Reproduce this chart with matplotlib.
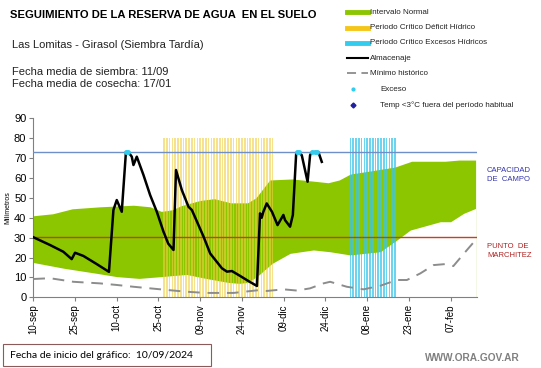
import numpy as np
from matplotlib import pyplot as plt
from matplotlib.lines import Line2D
from matplotlib.patches import Rectangle

plt.rcParams['font.family'] = ['Liberation Sans', 'DejaVu Sans']

# ---------------- datos (dias desde 10/09) ----------------
fechas = ['10-sep', '25-sep', '10-oct', '25-oct', '09-nov', '24-nov',
          '09-dic', '24-dic', '08-ene', '23-ene', '07-feb']
fechas_dias = [0, 15, 30, 45, 60, 75, 90, 105, 120, 135, 150]

# Intervalo normal
banda_sup_dias = [0, 7, 14, 24, 36, 42, 46, 50, 53, 60, 65, 71, 77, 80, 85, 93, 100, 106, 110, 114, 121, 130, 136, 148, 153, 159]
banda_sup = [41, 42, 44.5, 45.5, 46.3, 45.5, 43.2, 44, 46, 48.7, 49.6, 47.5, 47.5, 50, 59, 59.5, 58.5, 57.6, 59, 62, 63.5, 65.5, 68.4, 68.4, 69, 69]
banda_inf_dias = [0, 11, 23, 30, 38, 46, 55, 62, 70, 74, 77, 80.4, 85.8, 92.3, 100.7, 106.7, 113.9, 124.7, 130.7, 135.5, 146.3, 150, 154.7, 159]
banda_inf = [17.5, 14.6, 12, 10.4, 9.5, 10.4, 11.5, 9.5, 7.5, 7, 7.5, 10.4, 17, 22.1, 23.8, 22.9, 21.3, 22.9, 28.8, 33.8, 38, 38, 42.2, 44.7]

# Minimo historico
min_dias = [0, 6, 14.4, 24, 30, 36, 42, 48, 55, 62, 72, 80.4, 84, 90, 94.7, 99.5, 104.3, 106.7, 112.7, 118.7, 124.7, 130.7, 134.3, 139.1, 143.9, 148.1, 151, 155.9, 159]
min_mm = [9.2, 9.6, 7.8, 7, 6.2, 5.3, 4.5, 3.7, 2.8, 2.2, 2.2, 3.5, 3.2, 4, 3.4, 4.5, 7, 7.8, 5.3, 4, 5.8, 8.7, 8.7, 12, 16.2, 16.7, 15.7, 23.8, 28.8]

# Almacenaje
alm_dias = [0, 6, 10.8, 13.8, 15, 18, 22.8, 27.2, 28.8, 30, 31.8, 33.3, 34.2, 35.4, 36, 37.2, 39.6, 42, 44.4, 46.8, 48.5, 50.4,
            51.3, 53.4, 55.8, 57, 61.2, 63.6, 67.8, 69.6, 71.4, 74.4, 77.3, 80.4, 81.5, 82.1, 82.7, 83.9, 85.8, 87.8, 89.9,
            90.5, 92.3, 93.3, 94.5, 95.3, 96.5, 98.6, 99.5, 100.2, 102.5, 103.7]
alm_mm = [30.2, 26.3, 22.9, 19.2, 22.4, 20.8, 16.7, 12.8, 43.9, 48.9, 43, 73, 73, 70.7, 66.5, 70.7, 61.5, 51.4, 43, 33, 27, 23.8,
          64, 53.9, 45.5, 43.9, 30.5, 22, 14.6, 12.9, 13.2, 10.7, 8.2, 5.7, 42.2, 40, 43, 47.2, 43, 36.3, 41.4,
          38.8, 35.5, 41.4, 72.4, 73, 71.5, 58.1, 71.5, 73, 73, 68.1]

# Exceso
exceso_dias = [33.4, 34.2, 94.9, 95.6, 100.2, 101.1, 102]
exceso_mm = [73, 73, 73, 73, 73, 73, 73]

# Periodos criticos
deficit_dias = list(range(47, 87))
excesos_dias = list(range(114, 131))
periodo_tope = 80

cap_campo = 73
pto_marchitez = 30.5

verde = '#8cc600'

# ---------------------------------------------------------
fig = plt.figure(figsize=(5.41, 3.68), dpi=100)
ax = fig.add_axes([33.3/541, 1-297.3/368, (477-33.3)/541, (297.3-118.3)/368])

ax.fill_between(banda_sup_dias, banda_sup, color=verde, lw=0, zorder=1)
ax.fill_between(banda_inf_dias, banda_inf, color='white', lw=0, zorder=1.1)

ax.bar(deficit_dias, [periodo_tope]*len(deficit_dias), width=0.6, color='#f0d040', alpha=0.6, lw=0, zorder=2)
ax.bar(excesos_dias, [periodo_tope]*len(excesos_dias), width=0.6, color='#3cc6ea', alpha=0.75, lw=0, zorder=2)

ax.axhline(cap_campo, color='#6f8fc8', lw=1, zorder=3)
ax.axhline(pto_marchitez, color='#c8401e', lw=1, zorder=3)

ax.plot(min_dias, min_mm, color='#8c8c8c', lw=1.4, dashes=(6, 4), zorder=4)
ax.plot(alm_dias, alm_mm, color='black', lw=1.8, zorder=5)
ax.plot(exceso_dias, exceso_mm, ls='none', marker='o', ms=2.5, color='#33ccee', zorder=6)

ax.set_xlim(0, 159.5)
ax.set_ylim(0, 90)
ax.set_yticks(range(0, 91, 10))
ax.set_xticks(fechas_dias)
ax.set_xticklabels(fechas, rotation=90, fontsize=7)
ax.tick_params(axis='y', labelsize=8, length=3, color='#808080', pad=2)
ax.tick_params(axis='x', length=3, color='#808080', pad=2)
ax.set_ylabel('Milímetros', fontsize=5, labelpad=2)
for s in ['top', 'right']:
    ax.spines[s].set_visible(False)
for s in ['left', 'bottom']:
    ax.spines[s].set_color('#808080')

# Textos
fig.text(10/541, 1-15/368, 'SEGUIMIENTO DE LA RESERVA DE AGUA  EN EL SUELO', fontsize=8.1, weight='bold', va='center')
fig.text(12/541, 1-45/368, 'Las Lomitas - Girasol (Siembra Tardía)', fontsize=8, va='center', color='#222222')
fig.text(12/541, 1-72/368, 'Fecha media de siembra: 11/09', fontsize=8, va='center', color='#222222')
fig.text(12/541, 1-84/368, 'Fecha media de cosecha: 17/01', fontsize=8, va='center', color='#222222')

fig.text(487/541, 1-175/368, 'CAPACIDAD\nDE  CAMPO', fontsize=5.5, color='#3333aa', va='center', linespacing=1.3)
fig.text(487/541, 1-251/368, 'PUNTO  DE\nMARCHITEZ', fontsize=5.5, color='#b02020', va='center', linespacing=1.3)

# Leyenda manual
leg_y = [12, 27.7, 42.7, 58.3, 73.3, 89.3, 105]
leg_txt = ['Intervalo Normal', 'Periodo Crítico Déficit Hídrico', 'Periodo Crítico Excesos Hídricos',
           'Almacenaje', 'Mínimo histórico', 'Exceso', 'Temp <3°C fuera del período habitual']
x0, x1, xt = 347/541, 368/541, 370/541
for i, y in enumerate(leg_y):
    yf = 1 - y/368
    tx = xt
    if i == 0:
        fig.add_artist(Line2D([x0, x1], [yf, yf], color=verde, lw=3.5))
    elif i == 1:
        fig.add_artist(Line2D([x0, x1], [yf, yf], color='#f5c518', lw=3.5))
    elif i == 2:
        fig.add_artist(Line2D([x0, x1], [yf, yf], color='#33ccee', lw=3.5))
    elif i == 3:
        fig.add_artist(Line2D([x0, x1], [yf, yf], color='black', lw=1.5))
    elif i == 4:
        fig.add_artist(Line2D([x0, x1], [yf, yf], color='#8c8c8c', lw=1.3, dashes=(5, 3)))
    elif i == 5:
        fig.add_artist(Line2D([353/541], [yf], color='#33ccee', marker='o', ms=2, ls='none'))
        tx = 380/541
    else:
        fig.add_artist(Line2D([353/541], [yf], color='#1f1fa0', marker='D', ms=2.5, ls='none'))
        tx = 380/541
    fig.text(tx, yf, leg_txt[i], fontsize=5.8, va='center', color='#222222')

# Pie
fig.add_artist(Rectangle((3/541, 1-366/368), 208/541, 22/368, transform=fig.transFigure,
                         fill=False, edgecolor='#8b5a5a', lw=0.8))
fig.text(10/541, 1-355/368, 'Fecha de inicio del gráfico:  10/09/2024', fontsize=7.5, va='center',
         family=['Lato', 'DejaVu Sans'])
fig.text(425/541, 1-358/368, 'WWW.ORA.GOV.AR', fontsize=7.3, weight='bold', va='center', color='#808080')

fig.savefig('out.png', dpi=100)
